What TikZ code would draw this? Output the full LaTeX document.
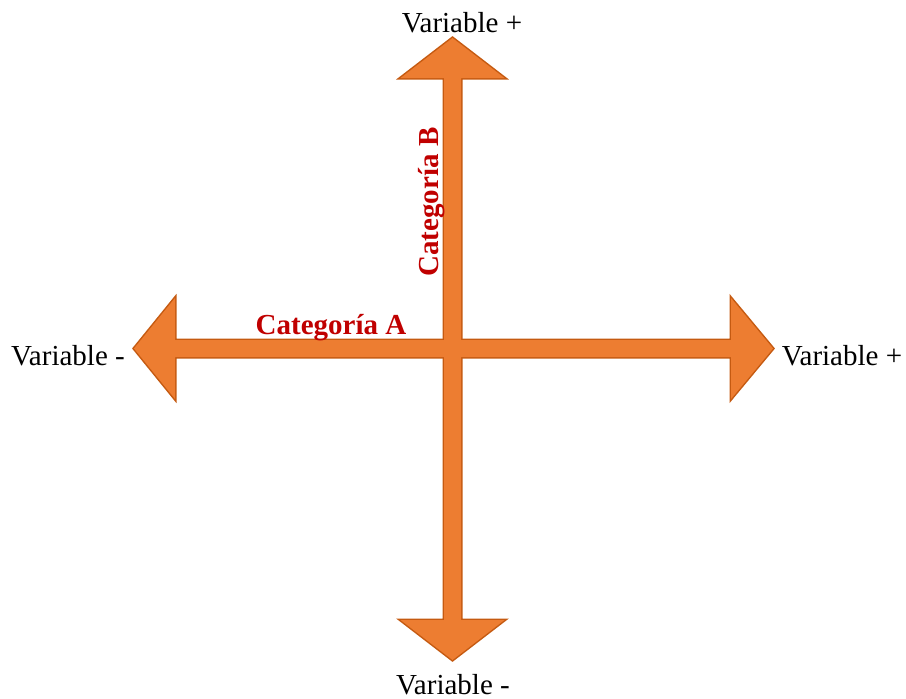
\documentclass[tikz,border=0pt]{standalone}
\usepackage{fontspec}
\setmainfont{Liberation Serif}
\definecolor{axOrange}{HTML}{ED7D31}
\definecolor{axEdge}{HTML}{C55A11}
\definecolor{axRed}{HTML}{C00000}
\begin{document}
\begin{tikzpicture}[
  x=1pt,y=-1pt,
  body/.style={fill=axOrange, draw=axEdge, line width=3pt, line join=miter},
  bodyfill/.style={fill=axOrange},
  lbl/.style={font=\fontsize{29}{34}\selectfont, anchor=base, inner sep=0pt},
  cat/.style={lbl, font=\fontsize{29}{34}\selectfont\bfseries, text=axRed}
]
\useasboundingbox (0,0) rectangle (906,699);
\coordinate (west) at (134,348.5);
\coordinate (east) at (773,348.5);
\coordinate (north) at (452.5,38);
\coordinate (south) at (452.5,660);
% outline pass, then fill pass (joins the two axes)
\foreach \s in {body,bodyfill} {
  \path[\s] (west) -- (175,298) -- (175,340) -- (731,340) -- (731,298)
    -- (east) -- (731,399) -- (731,357) -- (175,357) -- (175,399) -- cycle;
  \path[\s] (north) -- (504.5,78) -- (461,78) -- (461,620) -- (504.5,620)
    -- (south) -- (400.5,620) -- (444,620) -- (444,78) -- (400.5,78) -- cycle;
}
\node[lbl] (topvar) at (462,32) {Variable +};
\node[lbl] (botvar) at (453,694) {Variable -};
\node[lbl] (leftvar) at (68,365) {Variable -};
\node[lbl] (rightvar) at (842,365) {Variable +};
\node[cat] (catA) at (331,334) {Categoría A};
\node[cat, rotate=90] (catB) at (438,202) {Categoría B};
\end{tikzpicture}
\end{document}
